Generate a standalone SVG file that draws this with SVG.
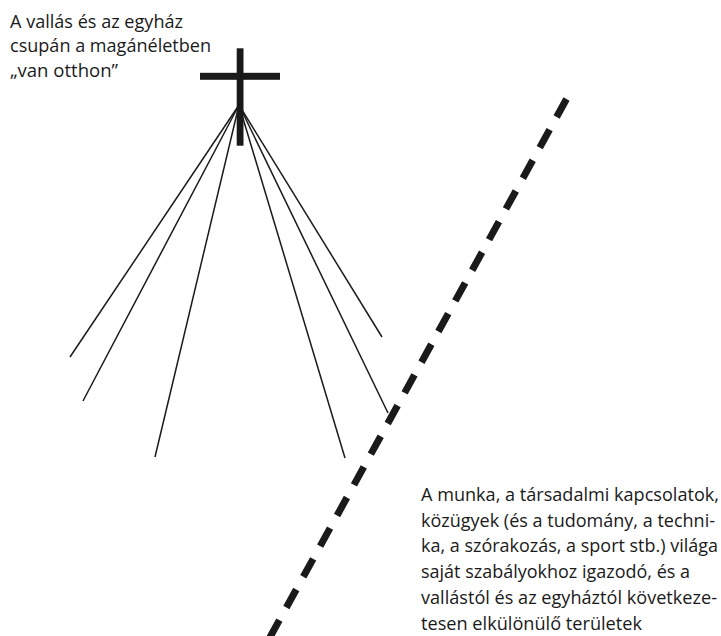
<svg xmlns="http://www.w3.org/2000/svg" width="721" height="636" viewBox="0 0 721 636">
  <style>
    .txt { font-family: "Open Sans", "Noto Sans", "Liberation Sans", sans-serif; fill: #1a1a1a; }
    .top { font-size: 18.5px; }
    .bot { font-size: 18px; }
    .ray { stroke: #1a1a1a; stroke-width: 1.5; fill: none; stroke-linecap: butt; }
    .bar { fill: #1a1a1a; }
    .divider { stroke: #1a1a1a; stroke-width: 7; stroke-dasharray: 20.5 14.5; fill: none; }
  </style>
  <rect width="721" height="636" fill="#ffffff"/>

  <g id="label-private">
    <text class="txt top" x="10" y="27.7" textLength="173" lengthAdjust="spacingAndGlyphs">A vallás és az egyház</text>
    <text class="txt top" x="10" y="52.2" textLength="201" lengthAdjust="spacingAndGlyphs">csupán a magánéletben</text>
    <text class="txt top" x="10" y="76.5" textLength="108" lengthAdjust="spacingAndGlyphs">„van otthon”</text>
  </g>

  <g id="cross">
    <rect class="bar" x="236.7" y="48.3" width="6.8" height="97.4"/>
    <rect class="bar" x="200" y="72.8" width="80" height="7"/>
  </g>

  <g id="connectors">
    <line class="ray" x1="239" y1="105" x2="70" y2="357"/>
    <line class="ray" x1="239" y1="105" x2="83" y2="401"/>
    <line class="ray" x1="239" y1="105" x2="155" y2="457"/>
    <line class="ray" x1="239" y1="105" x2="345" y2="458"/>
    <line class="ray" x1="239" y1="105" x2="388" y2="413"/>
    <line class="ray" x1="239" y1="105" x2="382" y2="337"/>
  </g>

  <g id="divider">
    <line class="divider" x1="566.5" y1="99" x2="266.5" y2="643.5"/>
  </g>

  <g id="label-secular">
    <text class="txt bot" x="421" y="501" textLength="298" lengthAdjust="spacingAndGlyphs">A munka, a társadalmi kapcsolatok,</text>
    <text class="txt bot" x="421" y="526.7" textLength="294" lengthAdjust="spacingAndGlyphs">közügyek (és a tudomány, a techni-</text>
    <text class="txt bot" x="421" y="552.4" textLength="297" lengthAdjust="spacingAndGlyphs">ka, a szórakozás, a sport stb.) világa</text>
    <text class="txt bot" x="421" y="578.1" textLength="269" lengthAdjust="spacingAndGlyphs">saját szabályokhoz igazodó, és a</text>
    <text class="txt bot" x="421" y="603.8" textLength="296" lengthAdjust="spacingAndGlyphs">vallástól és az egyháztól következe-</text>
    <text class="txt bot" x="421" y="629.5" textLength="221" lengthAdjust="spacingAndGlyphs">tesen elkülönülő területek</text>
  </g>
</svg>
